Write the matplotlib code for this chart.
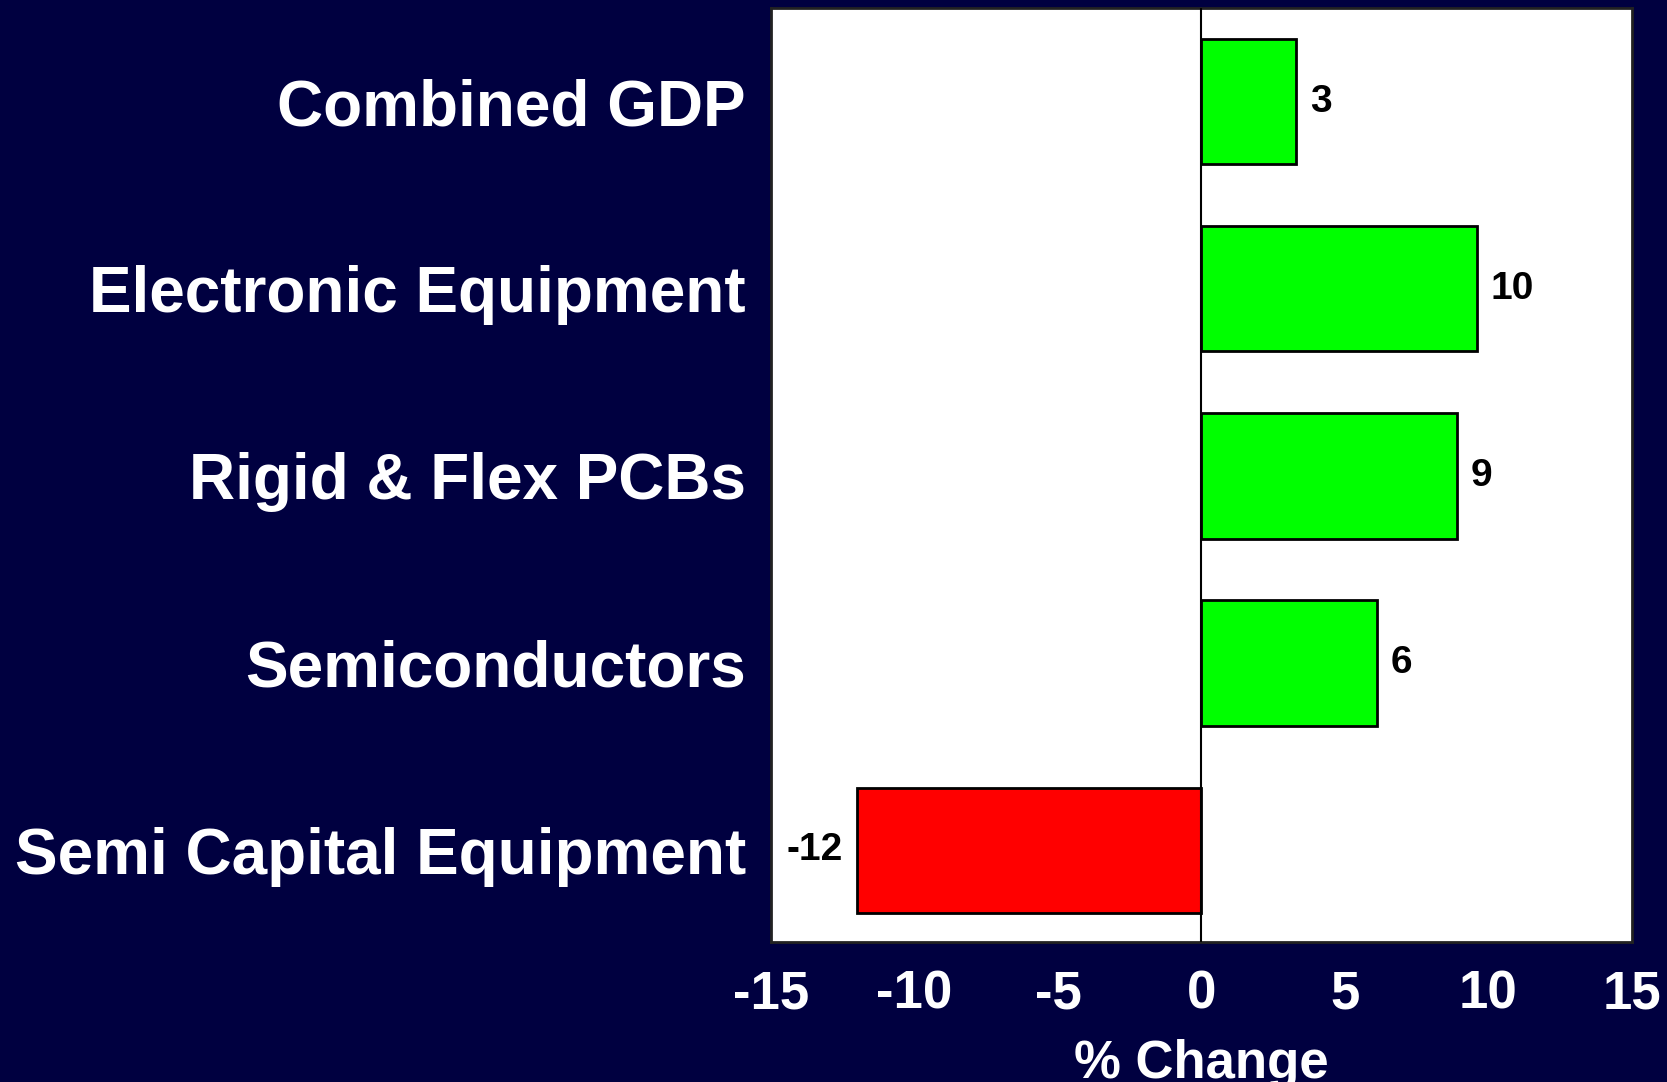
import matplotlib
matplotlib.use('Agg')

import matplotlib.pyplot as plt
import numpy as np

# growth forecast by segment, % change
categories = ['Combined GDP', 'Electronic Equipment', 'Rigid & Flex PCBs',
              'Semiconductors', 'Semi Capital Equipment']
values = [3.3, 9.6, 8.9, 6.1, -12.0]
xticks = [-15, -10, -5, 0, 5, 10, 15]

navy = '#000040'
bold = ['Liberation Sans', 'DejaVu Sans']
narrow = ['Liberation Sans Narrow', 'Liberation Sans', 'DejaVu Sans']

fig = plt.figure(figsize=(16.67, 10.82), dpi=100, facecolor=navy)
ax = fig.add_axes([0.4625, 0.1294, 0.979 - 0.4625, 0.9926 - 0.1294])
ax.set_facecolor('white')

pos = np.arange(len(categories))
colors = ['#00ff00' if v >= 0 else '#ff0000' for v in values]
bars = ax.barh(pos, values, height=0.67, color=colors, edgecolor='black',
               linewidth=2, zorder=2)
ax.axvline(0, color='black', linewidth=1.5, zorder=3)

for b, v in zip(bars, values):
    y = b.get_y() + b.get_height() / 2
    if v >= 0:
        ax.annotate(f'{v:.0f}', (v, y), xytext=(10, 0), textcoords='offset points',
                    ha='left', va='center', fontsize=28, fontweight='bold',
                    family=bold, color='black')
    else:
        ax.annotate(f'{v:.0f}', (v, y), xytext=(-10, 0), textcoords='offset points',
                    ha='right', va='center', fontsize=28, fontweight='bold',
                    family=bold, color='black')

ax.set_xlim(-15, 15)
ax.set_ylim(4.49, -0.5)
ax.set_xticks(xticks)
ax.set_xticklabels([str(t) for t in xticks], fontsize=38, fontweight='bold',
                   family=narrow, color='white')
ax.set_yticks(pos)
ax.set_yticklabels(categories, fontsize=46, fontweight='bold', family=bold,
                   color='white')
ax.tick_params(axis='both', length=0)
ax.tick_params(axis='x', pad=20)
ax.tick_params(axis='y', pad=18)

ax.set_xlabel('% Change', fontsize=38, fontweight='bold', family=narrow,
              color='white', labelpad=14)

for s in ax.spines.values():
    s.set_color('#222222')
    s.set_linewidth(2)

plt.savefig('out.png', dpi=100, facecolor=navy)
